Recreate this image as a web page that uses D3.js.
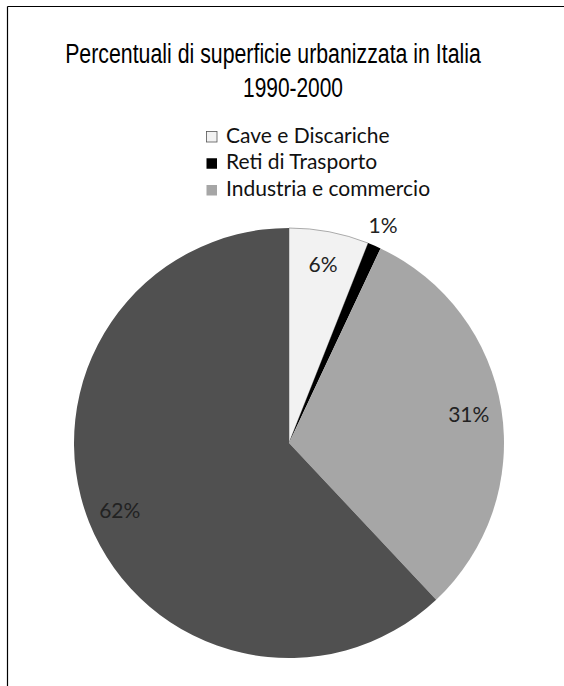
<!DOCTYPE html>
<html>
<head>
<meta charset="utf-8">
<script src="https://cdn.jsdelivr.net/npm/d3@7"></script>
<style>
  html, body { margin: 0; padding: 0; background: #fff; }
  svg { display: block; }
</style>
</head>
<body>
<svg id="chart" width="564" height="686"></svg>
<script>
const titleLines = ["Percentuali di superficie urbanizzata in Italia", "1990-2000"];
const categories = ["Cave e Discariche", "Reti di Trasporto", "Industria e commercio", "Residenziale"];
const values = [6, 1, 31, 62];
const labels = ["6%", "1%", "31%", "62%"];
const legendCategories = ["Cave e Discariche", "Reti di Trasporto", "Industria e commercio"];
const colors = ["#f2f2f2", "#000000", "#a6a6a6", "#505050"];

const svg = d3.select("#chart");

// frame
svg.append("line").attr("x1", 7.5).attr("x2", 564).attr("y1", 6.5).attr("y2", 6.5)
  .attr("stroke", "#000").attr("stroke-width", 1.2);
svg.append("line").attr("x1", 7.5).attr("x2", 7.5).attr("y1", 6.5).attr("y2", 686)
  .attr("stroke", "#000").attr("stroke-width", 1.2);

// title (narrow, tall lettering): horizontally condensed via a scale transform
const titleSpec = [
  { x: 273, y: 63, len: 416 },
  { x: 293, y: 97, len: 100 }
];
titleLines.forEach((t, i) => {
  const tg = svg.append("g");
  const txt = tg.append("text").attr("text-anchor", "middle")
    .attr("font-family", "'Liberation Sans', Arial, sans-serif")
    .attr("font-size", 27).attr("fill", "#000")
    .attr("x", 0).attr("y", 0)
    .text(t);
  const natural = txt.node().getComputedTextLength() || titleSpec[i].len;
  const sx = Math.min(1, titleSpec[i].len / natural);
  tg.attr("transform", `translate(${titleSpec[i].x},${titleSpec[i].y}) scale(${sx},1)`);
});

// legend
const color = d3.scaleOrdinal().domain(categories).range(colors);
const legY = d3.scalePoint().domain(legendCategories).range([136.5, 190]);
const leg = svg.append("g");
legendCategories.forEach(c => {
  const g = leg.append("g").attr("transform", `translate(206,${legY(c)})`);
  g.append("rect").attr("x", 0.5).attr("y", -5).attr("width", 10.5).attr("height", 10.5)
    .attr("fill", color(c)).attr("stroke", c === categories[0] ? "#555" : "none").attr("stroke-width", 0.8);
  g.append("text").attr("x", 20).attr("y", 6)
    .attr("font-family", "Lato, 'Open Sans', sans-serif").attr("font-size", 21).attr("fill", "#111")
    .text(c);
});

// pie
const cx = 289, cy = 443, R = 215;
const pie = d3.pie().sort(null).value(d => d.v);
const data = categories.map((c, i) => ({ c, v: values[i], label: labels[i] }));
const arcs = pie(data);
const arc = d3.arc().innerRadius(0).outerRadius(R);
const g = svg.append("g").attr("transform", `translate(${cx},${cy})`);
g.selectAll("path").data(arcs).join("path")
  .attr("d", arc)
  .attr("fill", d => color(d.data.c))
  .attr("stroke", d => d.index === 0 ? "#777" : "none")
  .attr("stroke-width", 0.6);

const inArc = d3.arc().innerRadius(182).outerRadius(182);
const outArc = d3.arc().innerRadius(237).outerRadius(237);
g.selectAll("text.lab").data(arcs).join("text")
  .attr("class", "lab")
  .attr("transform", d => `translate(${(d.data.v < 3 ? outArc : inArc).centroid(d)})`)
  .attr("text-anchor", "middle").attr("dy", "0.36em")
  .attr("font-family", "Lato, 'Open Sans', sans-serif").attr("font-size", 21).attr("fill", "#222")
  .text(d => d.data.label);
</script>
</body>
</html>
